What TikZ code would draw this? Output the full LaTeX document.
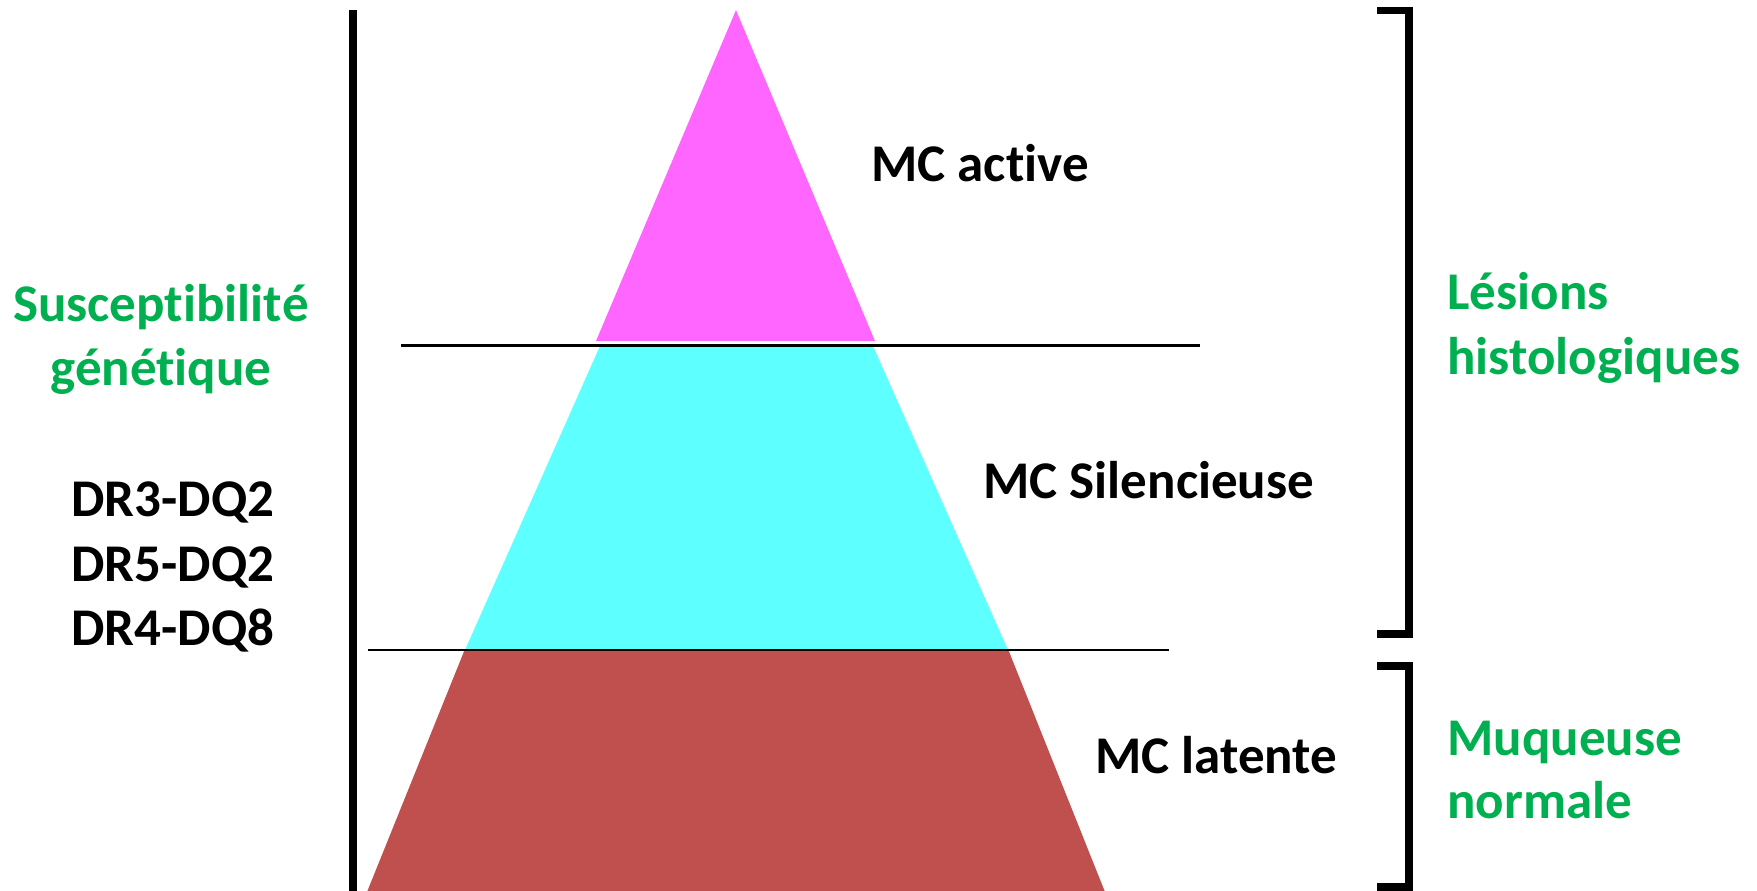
\documentclass[tikz,border=0pt]{standalone}
\usepackage{fontspec}
\setmainfont{Carlito}[Ligatures={NoCommon}]
\newcommand{\tbrk}{t\kern0pt\relax}
\definecolor{pinkc}{RGB}{255,102,255}
\definecolor{cyanc}{RGB}{93,255,255}
\definecolor{brownc}{RGB}{192,80,77}
\definecolor{greenc}{RGB}{0,176,80}
\tikzset{
  lbl/.style={font=\fontsize{26.5}{32}\selectfont\bfseries, inner sep=0pt, anchor=base west},
  glbl/.style={lbl, text=greenc},
  thinline/.style={line width=1.35pt},
  thickline/.style={line width=3.7pt},
  bracketline/.style={line width=3.6pt, miter limit=10}
}
\begin{document}
\begin{tikzpicture}[x=0.5pt,y=-0.5pt]
\useasboundingbox (0,0) rectangle (1757,890);
% pyramid layers
\fill[pinkc] (736,10) -- (875,341) -- (596,341) -- cycle;
\fill[cyanc] (600,346) -- (873,346) -- (1008,650) -- (465,650) -- cycle;
\fill[brownc] (465,649) -- (1008,649) -- (1105,892) -- (367,892) -- cycle;
% separators
\coordinate (l1a) at (401,345.5);
\coordinate (l1b) at (1200,345.5);
\coordinate (l2a) at (368,650);
\coordinate (l2b) at (1169,650);
\draw[thinline] (l1a) -- (l1b);
\draw[thinline] (l2a) -- (l2b);
% left bar
\coordinate (bart) at (353,10);
\coordinate (barb) at (353,895);
\draw[thickline] (bart) -- (barb);
% brackets
\draw[bracketline] (1377,10.5) -- (1409,10.5) -- (1409,634) -- (1377,634);
\draw[bracketline] (1377,666) -- (1409,666) -- (1409,887) -- (1377,887);
% labels in pyramid
\node[lbl] (active) at (871,181.5) {MC ac\tbrk ive};
\node[lbl] (silence) at (983,498) {MC Silencieuse};
\node[lbl] (latente) at (1095,773.5) {MC latente};
% left texts
\node[glbl, anchor=base] (sus1) at (161,321.7) {Suscep\tbrk ibili\tbrk é};
\node[glbl, anchor=base] (sus2) at (161,385.5) {géné\tbrk ique};
\node[lbl] (dr1) at (71,516.7) {DR3-DQ2};
\node[lbl] (dr2) at (71,581.5) {DR5-DQ2};
\node[lbl] (dr3) at (71,645.5) {DR4-DQ8};
% right texts
\node[glbl] (les1) at (1447,309.5) {Lésions};
\node[glbl] (les2) at (1447,374.5) {histologiques};
\node[glbl] (muq1) at (1447,755) {Muqueuse};
\node[glbl] (muq2) at (1447,818) {normale};
\end{tikzpicture}
\end{document}
